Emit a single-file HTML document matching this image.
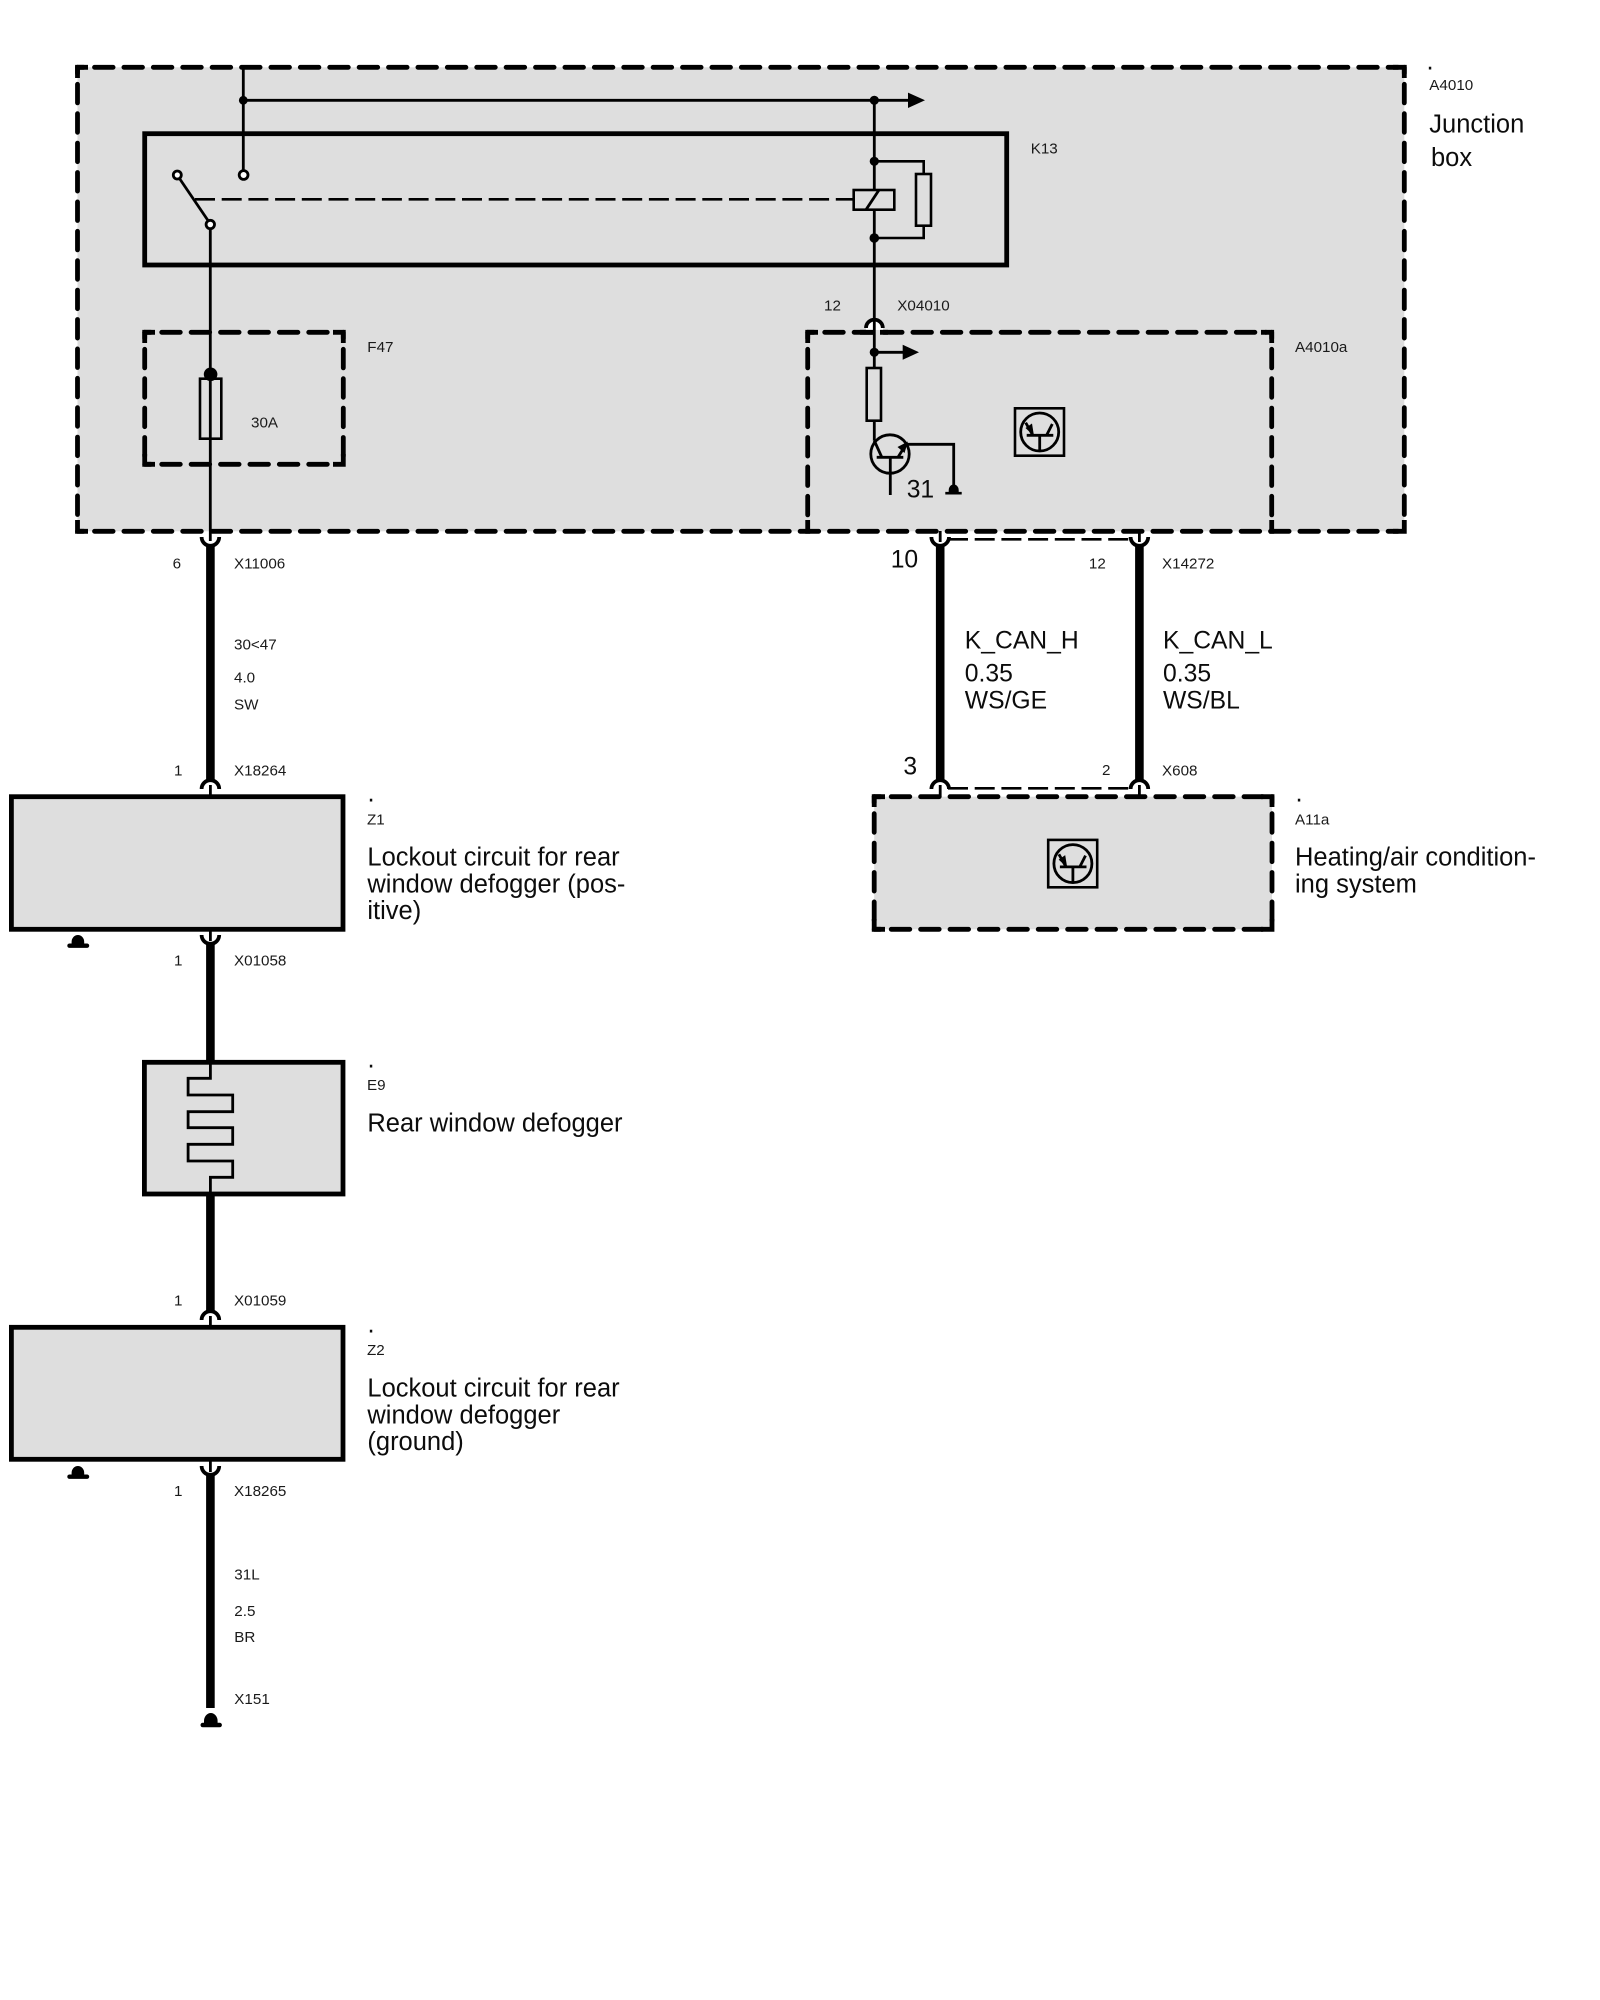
<!DOCTYPE html>
<html>
<head>
<meta charset="utf-8">
<style>
html,body{margin:0;padding:0;background:#fff;width:1600px;height:2000px;overflow:hidden}
svg{display:block}
text{font-family:"Liberation Sans",Arial,sans-serif;fill:#1a1a1a}
.s{font-size:15.2px}
.l{font-size:25.5px;fill:#0c0c0c}
.k{font-size:24.7px;fill:#0c0c0c}
.d{stroke:#000;stroke-width:4.8;fill:none;stroke-dasharray:18.6 10.8;stroke-dashoffset:12.4;stroke-linecap:round}
.q{stroke:#000;stroke-width:4.8;fill:none;stroke-linejoin:miter}
.b{stroke:#000;stroke-width:4.8;fill:#dedede;stroke-linejoin:miter}
.w{stroke:#000;stroke-width:2.8;fill:none}
.r{stroke:#000;stroke-width:2.6;fill:none}
.t{stroke:#000;stroke-width:8.6;fill:none}
.c{stroke:#000;stroke-width:3.8;fill:none}
.h{stroke:#000;stroke-width:2.6;fill:none;stroke-dasharray:20 6.7}
</style>
</head>
<body>
<svg width="1600" height="2000" viewBox="0 0 1600 2000" xmlns="http://www.w3.org/2000/svg">
<!-- fills -->
<rect x="77.5" y="67.3" width="1326.8" height="464" fill="#dedede"/>
<rect x="874.2" y="796.7" width="397.8" height="132.6" fill="#dedede"/>

<!-- Outer A4010 dashed -->
<line class="d" x1="77.5" y1="67.3" x2="1398" y2="67.3"/>
<line class="d" x1="77.5" y1="67.3" x2="77.5" y2="525"/>
<line class="d" x1="77.5" y1="531.3" x2="1398" y2="531.3"/>
<line class="d" x1="1404.3" y1="67.3" x2="1404.3" y2="525"/>
<path class="q" d="M77.5 78V67.3H88M1393 67.3H1404.3V78M77.5 520V531.3H88M1393 531.3H1404.3V520"/>

<!-- K13 -->
<rect x="144.7" y="133.7" width="862" height="131.3" fill="none" stroke="#000" stroke-width="4.8"/>

<!-- F47 dashed -->
<line class="d" x1="144.7" y1="332.3" x2="338" y2="332.3"/>
<line class="d" x1="144.7" y1="332.3" x2="144.7" y2="458"/>
<line class="d" x1="144.7" y1="464.3" x2="338" y2="464.3"/>
<line class="d" x1="343.3" y1="332.3" x2="343.3" y2="458"/>
<path class="q" d="M144.7 343V332.3H155M333 332.3H343.3V343M144.7 454V464.3H155M333 464.3H343.3V454"/>

<!-- A4010a dashed -->
<line class="d" x1="807.7" y1="332.3" x2="1266" y2="332.3"/>
<line class="d" x1="807.7" y1="332.3" x2="807.7" y2="525"/>
<line class="d" x1="1271.7" y1="332.3" x2="1271.7" y2="525"/>
<path class="q" d="M807.7 343V332.3H818M1261 332.3H1271.7V343M807.7 520V533.7M1271.7 520V533.7"/>

<!-- top wiring -->
<line class="w" x1="243.3" y1="67" x2="243.3" y2="171"/>
<circle cx="243.3" cy="100.3" r="4.4"/>
<line class="w" x1="243" y1="100.3" x2="910" y2="100.3"/>
<polygon points="908,92.6 925,100.3 908,108"/>
<circle cx="874.3" cy="100.3" r="4.6"/>
<line class="w" x1="874.3" y1="100" x2="874.3" y2="190"/>
<line class="w" x1="874.3" y1="209.7" x2="874.3" y2="320"/>

<!-- switch -->
<circle cx="177.3" cy="175" r="4" fill="#fff" stroke="#000" stroke-width="2.8"/>
<circle cx="243.6" cy="175" r="4.4" fill="#fff" stroke="#000" stroke-width="2.8"/>
<line class="w" x1="179.5" y1="178.5" x2="208" y2="220.5"/>
<line class="h" x1="195" y1="199.3" x2="853.7" y2="199.3"/>
<circle cx="210.3" cy="224.5" r="4.2" fill="#fff" stroke="#000" stroke-width="2.8"/>
<line class="w" x1="210.3" y1="229" x2="210.3" y2="541"/>

<!-- fuse -->
<circle cx="210.6" cy="374.3" r="6.8"/>
<rect class="r" x="200" y="378.7" width="21.3" height="60"/>

<!-- relay -->
<rect x="853.7" y="190" width="40.6" height="19.7" fill="none" stroke="#000" stroke-width="2.6"/>
<line class="w" x1="866" y1="209.7" x2="879" y2="190"/>
<circle cx="874.3" cy="161.3" r="4.6"/>
<circle cx="874.3" cy="238" r="4.8"/>
<path class="r" d="M874.3 161.3H923.7V174M923.7 225.7V238H874.3"/>
<rect class="r" x="916" y="174" width="15" height="51.7"/>

<!-- X04010 connector -->
<path d="M866 327A8.4 8.4 0 0 1 883 327V330H866Z" fill="#fff"/>
<path class="c" d="M866 328A8.4 8.4 0 0 1 882.8 328"/>
<line class="w" x1="874.3" y1="318" x2="874.3" y2="368"/>
<line x1="860" y1="332.3" x2="888" y2="332.3" stroke="#000" stroke-width="4.8" stroke-dasharray="14 6 30"/>
<circle cx="874.3" cy="352.3" r="4.6"/>
<line class="w" x1="874.3" y1="352.3" x2="904" y2="352.3"/>
<polygon points="902.7,344.8 919,352.3 902.7,359.8"/>
<rect class="r" x="866.7" y="368" width="14.3" height="52.7"/>
<line class="w" x1="874.3" y1="420.7" x2="874.3" y2="440"/>

<!-- transistor -->
<circle cx="890" cy="454" r="19.2" fill="none" stroke="#000" stroke-width="2.8"/>
<line class="w" x1="874" y1="440" x2="881.7" y2="457"/>
<line class="w" x1="876.7" y1="457.3" x2="903.3" y2="457.3"/>
<line class="w" x1="890.3" y1="457.3" x2="890.3" y2="495"/>
<line class="w" x1="898.3" y1="456.7" x2="906.7" y2="443.3"/>
<polygon points="908,441.5 897.5,447 904.5,453"/>
<path class="w" d="M906 444.3H953.7V487"/>
<path d="M948.7 490A5 5.5 0 0 1 958.7 490V492H948.7Z"/>
<line x1="945.3" y1="493.2" x2="961.7" y2="493.2" stroke="#000" stroke-width="2.6"/>

<!-- CAN icon A4010a -->
<g>
<rect x="1015" y="408.3" width="49" height="47.4" fill="none" stroke="#000" stroke-width="2.6"/>
<circle cx="1039.7" cy="432" r="19" fill="none" stroke="#000" stroke-width="2.8"/>
<line class="w" x1="1026.7" y1="435.3" x2="1053.3" y2="435.3"/>
<line class="w" x1="1039.7" y1="435.3" x2="1039.7" y2="450.7"/>
<line class="w" x1="1052.3" y1="424" x2="1046.7" y2="435"/>
<line class="w" x1="1025.7" y1="422.7" x2="1032.7" y2="435"/>
<polygon points="1034,436 1025.5,428 1032,423.5"/>
</g>
<!-- CAN icon A11a -->
<g transform="translate(33.2 431.6)">
<rect x="1015" y="408.3" width="49" height="47.4" fill="none" stroke="#000" stroke-width="2.6"/>
<circle cx="1039.7" cy="432" r="19" fill="none" stroke="#000" stroke-width="2.8"/>
<line class="w" x1="1026.7" y1="435.3" x2="1053.3" y2="435.3"/>
<line class="w" x1="1039.7" y1="435.3" x2="1039.7" y2="450.7"/>
<line class="w" x1="1052.3" y1="424" x2="1046.7" y2="435"/>
<line class="w" x1="1025.7" y1="422.7" x2="1032.7" y2="435"/>
<polygon points="1034,436 1025.5,428 1032,423.5"/>
</g>

<!-- left thick wire 1 -->
<path class="c" d="M201.6 537A8.8 8.8 0 0 0 219.2 537"/>
<line class="t" x1="210.4" y1="545" x2="210.4" y2="781"/>
<path class="c" d="M201.6 789A8.8 8.8 0 0 1 219.2 789"/>
<line class="w" x1="210.4" y1="785" x2="210.4" y2="797"/>

<!-- Z1 -->
<rect class="b" x="11.4" y="796.7" width="331.6" height="132.6"/>
<line class="w" x1="210.4" y1="930" x2="210.4" y2="941"/>
<path class="c" d="M201.6 935A8.8 8.8 0 0 0 219.2 935"/>
<line class="t" x1="210.4" y1="942" x2="210.4" y2="1062"/>
<path d="M71.6 942A6.3 7 0 0 1 84.2 942V945H71.6Z"/>
<line x1="69.5" y1="945.7" x2="87" y2="945.7" stroke="#000" stroke-width="4.4" stroke-linecap="round"/>

<!-- E9 -->
<rect class="b" x="144.4" y="1062.3" width="198.6" height="131.7"/>
<path stroke="#000" stroke-width="2.8" fill="none" d="M210.4 1060V1078.3H188.1V1095H232.7V1111.7H188.1V1127.7H232.7V1144.3H188.1V1161H232.7V1177.3H210.4V1196"/>
<line class="t" x1="210.4" y1="1192" x2="210.4" y2="1311"/>
<path class="c" d="M201.6 1320A8.8 8.8 0 0 1 219.2 1320"/>
<line class="w" x1="210.4" y1="1316" x2="210.4" y2="1328"/>

<!-- Z2 -->
<rect class="b" x="11.4" y="1327.3" width="331.6" height="132"/>
<line class="w" x1="210.4" y1="1460" x2="210.4" y2="1472"/>
<path class="c" d="M201.6 1466A8.8 8.8 0 0 0 219.2 1466"/>
<line class="t" x1="210.4" y1="1473" x2="210.4" y2="1708"/>
<path d="M71.6 1473A6.3 7 0 0 1 84.2 1473V1476H71.6Z"/>
<line x1="69.5" y1="1476.7" x2="87" y2="1476.7" stroke="#000" stroke-width="4.4" stroke-linecap="round"/>
<path d="M204 1721A6.8 8 0 0 1 217.6 1721V1724H204Z"/>
<line x1="202.8" y1="1725" x2="219.6" y2="1725" stroke="#000" stroke-width="4.6" stroke-linecap="round"/>

<!-- K-CAN wires -->
<g>
<line class="w" x1="940.2" y1="531" x2="940.2" y2="542"/>
<path class="c" d="M931.4 537A8.8 8.8 0 0 0 949 537"/>
<line class="t" x1="940.2" y1="545" x2="940.2" y2="781"/>
<path class="c" d="M931.4 789A8.8 8.8 0 0 1 949 789"/>
<line class="w" x1="940.2" y1="785" x2="940.2" y2="797"/>
<line class="w" x1="1139.4" y1="531" x2="1139.4" y2="542"/>
<path class="c" d="M1130.6 537A8.8 8.8 0 0 0 1148.2 537"/>
<line class="t" x1="1139.4" y1="545" x2="1139.4" y2="781"/>
<path class="c" d="M1130.6 789A8.8 8.8 0 0 1 1148.2 789"/>
<line class="w" x1="1139.4" y1="785" x2="1139.4" y2="797"/>
<line class="h" x1="948" y1="539.3" x2="1131" y2="539.3"/>
<line class="h" x1="948" y1="788.3" x2="1131" y2="788.3"/>
</g>

<!-- A11a dashed -->
<line class="d" x1="874.2" y1="796.7" x2="1266" y2="796.7"/>
<line class="d" x1="874.2" y1="796.7" x2="874.2" y2="923"/>
<line class="d" x1="874.2" y1="929.3" x2="1266" y2="929.3"/>
<line class="d" x1="1272" y1="796.7" x2="1272" y2="923"/>
<path class="q" d="M874.2 807V796.7H885M1261 796.7H1272V807M874.2 919V929.3H885M1261 929.3H1272V919"/>

<!-- labels -->
<text class="l" x="1431" y="69.3" text-anchor="middle" dx="-1">.</text>
<text class="s" x="1429.3" y="90">A4010</text>
<text class="l" x="1429.3" y="132.3">Junction</text>
<text class="l" x="1431" y="166">box</text>
<text class="s" x="1030.7" y="153.3">K13</text>
<text class="s" x="367.3" y="352">F47</text>
<text class="s" x="251" y="427.7">30A</text>
<text class="s" x="824" y="310.3">12</text>
<text class="s" x="897.3" y="310.3">X04010</text>
<text class="s" x="1295" y="352">A4010a</text>
<text class="k" x="906.7" y="497.3">31</text>

<text class="s" x="172.6" y="568.3">6</text>
<text class="s" x="234" y="568.3">X11006</text>
<text class="s" x="234" y="649.3">30&lt;47</text>
<text class="s" x="234" y="682.3">4.0</text>
<text class="s" x="234" y="709.3">SW</text>
<text class="s" x="174" y="775.3">1</text>
<text class="s" x="234" y="775.3">X18264</text>

<text class="l" x="367.5" y="801.7">.</text>
<text class="s" x="367" y="824.3">Z1</text>
<text class="l" x="367.4" y="865.7">Lockout circuit for rear</text>
<text class="l" x="367.4" y="892.3">window defogger (pos-</text>
<text class="l" x="367.4" y="919">itive)</text>

<text class="s" x="174" y="965.3">1</text>
<text class="s" x="234" y="965.3">X01058</text>

<text class="l" x="367.5" y="1067.3">.</text>
<text class="s" x="367" y="1090">E9</text>
<text class="l" x="367.4" y="1131.7">Rear window defogger</text>

<text class="s" x="174" y="1305.3">1</text>
<text class="s" x="234" y="1305.3">X01059</text>

<text class="l" x="367.5" y="1332.7">.</text>
<text class="s" x="367" y="1355">Z2</text>
<text class="l" x="367.4" y="1396.7">Lockout circuit for rear</text>
<text class="l" x="367.4" y="1423.3">window defogger</text>
<text class="l" x="367.4" y="1450">(ground)</text>

<text class="s" x="174" y="1496">1</text>
<text class="s" x="234" y="1496">X18265</text>
<text class="s" x="234.3" y="1579.3">31L</text>
<text class="s" x="234.3" y="1616">2.5</text>
<text class="s" x="234.3" y="1642">BR</text>
<text class="s" x="234.3" y="1704">X151</text>

<text class="k" x="890.7" y="567.7">10</text>
<text class="s" x="1088.9" y="568.3">12</text>
<text class="s" x="1162" y="568.3">X14272</text>
<text class="k" x="964.8" y="648.3">K_CAN_H</text>
<text class="k" x="964.8" y="681.7">0.35</text>
<text class="k" x="964.8" y="708.3">WS/GE</text>
<text class="k" x="1163" y="648.3">K_CAN_L</text>
<text class="k" x="1163" y="681.7">0.35</text>
<text class="k" x="1163" y="708.3">WS/BL</text>
<text class="k" x="903.4" y="774.3">3</text>
<text class="s" x="1102" y="775">2</text>
<text class="s" x="1162" y="775.3">X608</text>

<text class="l" x="1295.5" y="801.7">.</text>
<text class="s" x="1295" y="824.3">A11a</text>
<text class="l" x="1295" y="865.7">Heating/air condition-</text>
<text class="l" x="1295" y="892.3">ing system</text>
</svg>
</body>
</html>
